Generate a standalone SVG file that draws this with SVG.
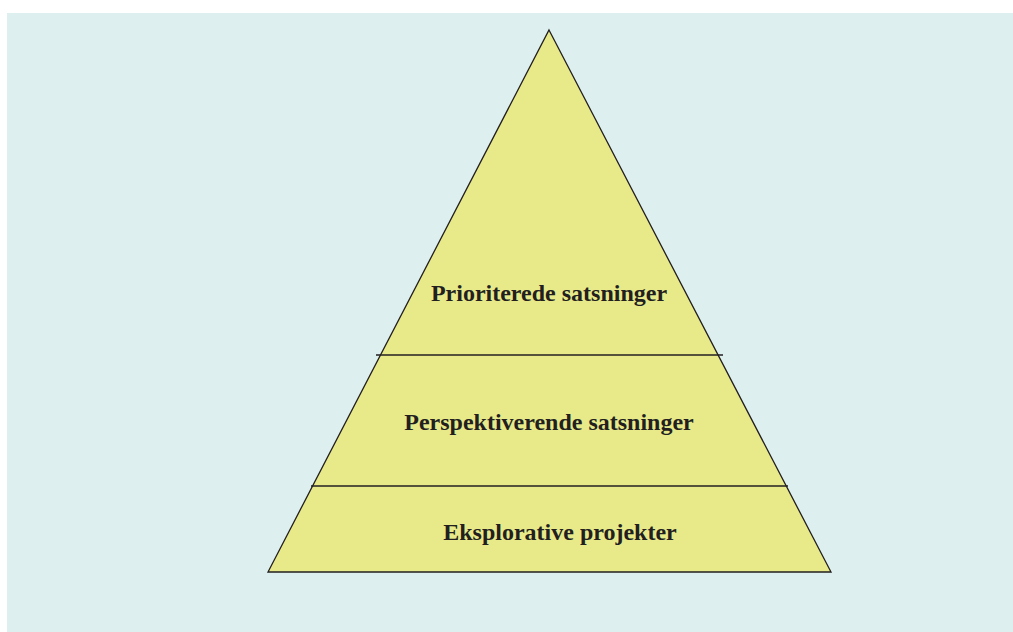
<svg xmlns="http://www.w3.org/2000/svg" width="1013" height="632" viewBox="0 0 1013 632">
<style>
.lbl{font-family:"Liberation Serif","Times New Roman",serif;font-weight:bold;font-size:24px;fill:#231F20;text-anchor:middle}
.div{stroke:#231F20;stroke-width:1.5}
</style>
<rect x="0" y="0" width="1013" height="632" fill="#ffffff"/>
<rect x="7" y="13" width="1006" height="619" fill="#DDF0EF"/>
<g id="pyramid">
<polygon points="549,30 831,572 268,572" fill="#E8EA8A" stroke="#231F20" stroke-width="1.3" stroke-linejoin="miter"/>
</g>
<g id="connectors">
<line class="div" x1="376" y1="355" x2="723" y2="355"/>
<line class="div" x1="311" y1="486" x2="788" y2="486"/>
</g>
<g id="tier-top"><text class="lbl" x="549" y="301">Prioriterede satsninger</text></g>
<g id="tier-mid"><text class="lbl" x="549" y="430">Perspektiverende satsninger</text></g>
<g id="tier-bottom"><text class="lbl" x="560" y="540">Eksplorative projekter</text></g>
</svg>
